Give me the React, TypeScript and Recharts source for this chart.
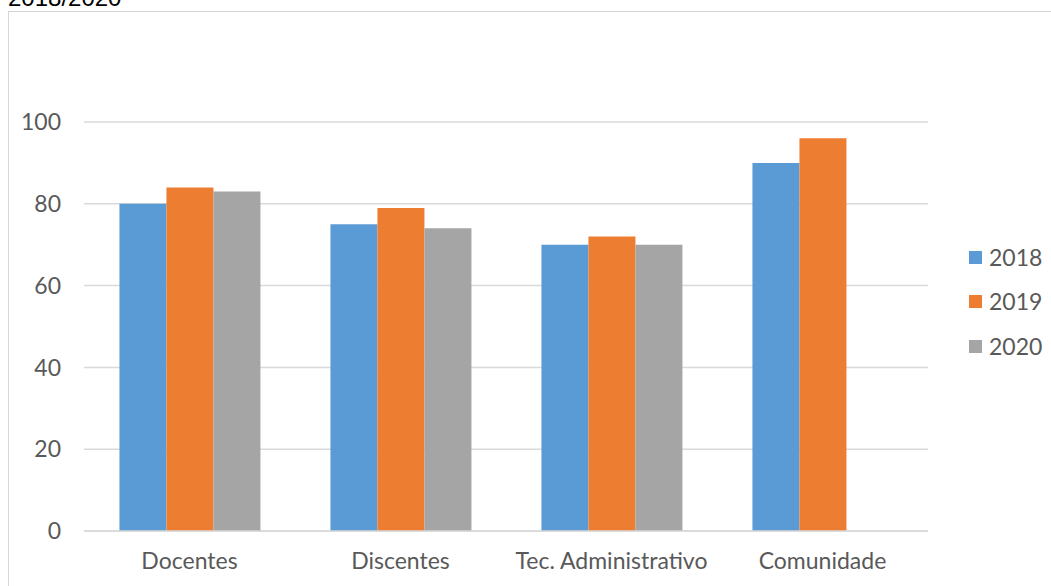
import { BarChart, Bar, XAxis, YAxis, CartesianGrid } from "recharts";

const categories = ["Docentes", "Discentes", "Tec. Administrativo", "Comunidade"];
const values2018 = [80, 75, 70, 90];
const values2019 = [84, 79, 72, 96];
const values2020: (number | null)[] = [83, 74, 70, null];
const yTicks = [0, 20, 40, 60, 80, 100];

const series = [
  { key: "y2018", name: "2018", color: "#5b9bd5", values: values2018 },
  { key: "y2019", name: "2019", color: "#ed7d31", values: values2019 },
  { key: "y2020", name: "2020", color: "#a5a5a5", values: values2020 },
];

const chartData = categories.map((category, i) => {
  const row: Record<string, string | number | null> = { category };
  series.forEach((s) => {
    row[s.key] = s.values[i];
  });
  return row;
});

const FONT = "Lato, 'Open Sans', sans-serif";
const TEXT_COLOR = "#595959";

export default function App() {
  return (
    <div
      style={{
        position: "fixed",
        left: 0,
        top: 0,
        width: 1051,
        height: 586,
        overflow: "hidden",
        background: "#fff",
        fontFamily: FONT,
      }}
    >
      <div
        style={{
          position: "absolute",
          left: 8,
          top: -14,
          fontFamily: "'Liberation Sans', Arial, sans-serif",
          fontSize: 24,
          lineHeight: "24px",
          color: "#000",
        }}
      >
        2018/2020
      </div>
      <div
        style={{
          position: "absolute",
          left: 8,
          top: 11,
          width: 1100,
          height: 700,
          border: "1.5px solid #d6d6d6",
        }}
      />
      <div style={{ position: "absolute", left: 0, top: 0 }}>
        <BarChart
          width={1051}
          height={586}
          data={chartData}
          margin={{ top: 122, right: 123, bottom: 25, left: 24 }}
          barCategoryGap="16.8%"
          barGap={0}
        >
          <CartesianGrid vertical={false} stroke="#d9d9d9" strokeWidth={1.5} />
          <XAxis
            dataKey="category"
            height={30}
            tickLine={false}
            tickSize={0}
            tickMargin={22}
            axisLine={{ stroke: "#d9d9d9", strokeWidth: 1.5 }}
            tick={{ fill: TEXT_COLOR, fontSize: 23 }}
            interval={0}
          />
          <YAxis
            width={60}
            domain={[0, 100]}
            ticks={yTicks}
            axisLine={false}
            tickLine={false}
            tickSize={0}
            tickMargin={23}
            tick={{ fill: TEXT_COLOR, fontSize: 23 }}
          />
          {series.map((s) => (
            <Bar
              key={s.key}
              dataKey={s.key}
              name={s.name}
              fill={s.color}
              isAnimationActive={false}
            />
          ))}
        </BarChart>
      </div>
      <div style={{ position: "absolute", left: 969, top: 234.75 }}>
        {series.map((s) => (
          <div
            key={s.key}
            style={{
              display: "flex",
              alignItems: "center",
              height: 44.5,
              fontSize: 23,
              lineHeight: 1,
              color: TEXT_COLOR,
            }}
          >
            <span
              style={{
                display: "inline-block",
                width: 13,
                height: 13,
                background: s.color,
                marginRight: 7,
              }}
            />
            <span>{s.name}</span>
          </div>
        ))}
      </div>
    </div>
  );
}
